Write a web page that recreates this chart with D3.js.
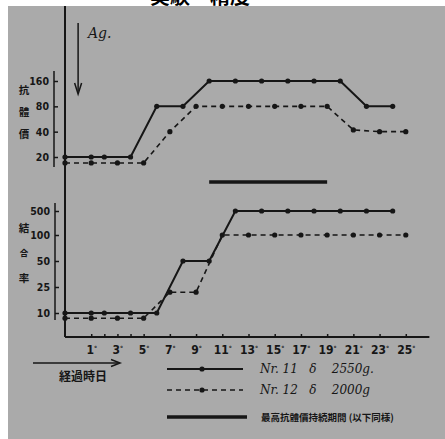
<!DOCTYPE html>
<html>
<head>
<meta charset="utf-8">
<script src="https://cdn.jsdelivr.net/npm/d3@7"></script>
<style>
  body { margin: 0; background: #fff; }
  svg { display: block; }
  .num { font-family: "Liberation Sans Narrow", "DejaVu Sans Condensed", sans-serif; font-weight: bold; }
  .jp { font-family: "Noto Sans CJK JP", sans-serif; font-weight: bold; }
</style>
</head>
<body>
<svg id="chart" width="445" height="439"></svg>
<script>
// days after Ag injection
const daysTop11 = [-1, 1, 2, 4, 6, 8, 10, 12, 14, 16, 18, 20, 22, 24];
const titerTop11 = [20, 20, 20, 20, 80, 80, 160, 160, 160, 160, 160, 160, 80, 80];
const daysTop12 = [-1, 1, 3, 5, 7, 9, 11, 13, 15, 17, 19, 21, 23, 25];
const titerTop12 = [17, 17, 17, 17, 40, 80, 80, 80, 80, 80, 80, 42, 40, 40];

const daysBot11 = [-1, 1, 2, 4, 6, 8, 10, 12, 14, 16, 18, 20, 22, 24];
const rateBot11 = [10, 10, 10, 10, 10, 50, 50, 500, 500, 500, 500, 500, 500, 500];
const daysBot12 = [-1, 1, 3, 5, 7, 9, 11, 13, 15, 17, 19, 21, 23, 25];
const rateBot12 = [7, 7, 7, 7, 22, 22, 100, 100, 100, 100, 100, 100, 100, 100];

const maxPeriod = [10, 19];
const agDay = 0;

const topTicks = [20, 40, 80, 160];
const botTicks = [10, 25, 50, 100, 500];
const dayTicks = [1, 2, 3, 4, 5, 7, 9, 11, 13, 15, 17, 19, 21, 23, 25];
const dayLabels = [1, 3, 5, 7, 9, 11, 13, 15, 17, 19, 21, 23, 25];

const topYLabel = ["抗", "體", "價"];
const botYLabel = ["結", "合", "率"];
const xLabel = "経過時日";
const legendNames = ["Nr. 11   δ    2550g.", "Nr. 12   δ    2000g"];
const legendBar = "最高抗體價持続期間 (以下同様)";

const ink = "#161616";
const svg = d3.select("#chart");

// title cut off at the top edge of the scan
svg.append("text").attr("class", "jp").attr("x", 200).attr("y", 4)
  .attr("text-anchor", "middle").attr("font-size", 20).attr("fill", "#000")
  .text("実験　精度");

svg.append("rect").attr("x", 8).attr("y", 6).attr("width", 437).attr("height", 433)
  .attr("fill", "#aaaaaa");

const x = d3.scaleLinear().domain([-1, 27]).range([65, 432]);
const yTop = d3.scaleLog().base(2).domain([20, 160]).range([157, 81]);
const yBot = d3.scaleLinear().domain(botTicks).range([313, 287, 261, 235, 211]);

// frame
svg.append("line").attr("x1", 65).attr("x2", 65).attr("y1", 6).attr("y2", 337)
  .attr("stroke", ink).attr("stroke-width", 2);

const xAxis = svg.append("g").attr("transform", "translate(0,337)")
  .call(d3.axisBottom(x).tickValues(dayTicks).tickSizeInner(-3).tickSizeOuter(0).tickPadding(8)
    .tickFormat(d => dayLabels.includes(d) ? d : ""));
xAxis.select(".domain").attr("d", `M65,0H${x(26.8)}`).attr("stroke", ink).attr("stroke-width", 2);
xAxis.selectAll(".tick line").attr("stroke", ink).attr("stroke-width", 1.5);
xAxis.selectAll(".tick text").attr("class", "num").attr("font-size", 12).attr("fill", ink)
  .filter(d => dayLabels.includes(d))
  .append("tspan").attr("dy", "-0.4em").attr("font-size", 7).text("°");

function yAxis(scale, ticks, ax, y1, y2) {
  const g = svg.append("g").attr("transform", `translate(${ax},0)`)
    .call(d3.axisLeft(scale).tickValues(ticks).tickSizeInner(-4).tickSizeOuter(0).tickPadding(5)
      .tickFormat(d3.format("d")));
  g.select(".domain").remove();
  g.append("line").attr("y1", y1).attr("y2", y2).attr("stroke", ink).attr("stroke-width", 1.5);
  g.selectAll(".tick line").attr("stroke", ink).attr("stroke-width", 1.5);
  g.selectAll(".tick text").attr("class", "num").attr("font-size", 10.5).attr("fill", ink);
}
yAxis(yTop, topTicks, 54, 71, 167);
yAxis(yBot, botTicks, 55, 203, 320);

function series(days, vals, y, dashed) {
  const pts = days.map((d, i) => [x(d), y(vals[i])]);
  svg.append("path").attr("d", d3.line()(pts)).attr("fill", "none")
    .attr("stroke", ink).attr("stroke-width", dashed ? 1.6 : 2)
    .attr("stroke-dasharray", dashed ? "5,4" : null);
  svg.append("g").selectAll("circle").data(pts).join("circle")
    .attr("cx", p => p[0]).attr("cy", p => p[1]).attr("r", 2.6).attr("fill", ink);
}
series(daysTop11, titerTop11, yTop, false);
series(daysTop12, titerTop12, yTop, true);
series(daysBot11, rateBot11, yBot, false);
series(daysBot12, rateBot12, yBot, true);

// period of highest titer
svg.append("line").attr("x1", x(maxPeriod[0])).attr("x2", x(maxPeriod[1]))
  .attr("y1", 182).attr("y2", 182).attr("stroke", ink).attr("stroke-width", 3.5);

// Ag arrow
svg.append("line").attr("x1", x(agDay)).attr("x2", x(agDay)).attr("y1", 23).attr("y2", 91)
  .attr("stroke", ink).attr("stroke-width", 1.5);
svg.append("path").attr("d", `M${x(agDay) - 3.5},83L${x(agDay)},94L${x(agDay) + 3.5},83`)
  .attr("fill", "none").attr("stroke", ink).attr("stroke-width", 1.5);
svg.append("text").attr("x", 88).attr("y", 38).attr("font-family", "DejaVu Serif")
  .attr("font-style", "italic").attr("font-size", 14).attr("fill", ink).text("Ag.");

// y labels
function vLabel(chars, cx, ys, sizes) {
  chars.forEach((c, i) => svg.append("text").attr("class", "jp").attr("x", cx).attr("y", ys[i])
    .attr("text-anchor", "middle").attr("dominant-baseline", "central")
    .attr("font-size", sizes[i]).attr("fill", ink).text(c));
}
vLabel(topYLabel, 24, [89, 111, 133], [10.5, 10.5, 10.5]);
vLabel(botYLabel, 24, [227, 252, 277], [10.5, 8.5, 10.5]);

// x label with arrow
svg.append("line").attr("x1", 33).attr("x2", 118).attr("y1", 363).attr("y2", 363)
  .attr("stroke", ink).attr("stroke-width", 1.5);
svg.append("path").attr("d", "M111,359.5L120,363L111,366.5").attr("fill", "none")
  .attr("stroke", ink).attr("stroke-width", 1.5);
svg.append("text").attr("class", "jp").attr("x", 83).attr("y", 375)
  .attr("text-anchor", "middle").attr("dominant-baseline", "central")
  .attr("font-size", 12).attr("fill", ink).text(xLabel);

// legend
const lg = svg.append("g");
[369, 390].forEach((ly, i) => {
  lg.append("line").attr("x1", 167).attr("x2", 243).attr("y1", ly).attr("y2", ly)
    .attr("stroke", ink).attr("stroke-width", i ? 1.6 : 2)
    .attr("stroke-dasharray", i ? "5,4" : null);
  lg.append("circle").attr("cx", 202).attr("cy", ly).attr("r", 2.6).attr("fill", ink);
  lg.append("text").attr("x", 260).attr("y", ly + 4).attr("font-family", "DejaVu Serif")
    .attr("font-style", "italic").attr("font-size", 12).attr("fill", ink)
    .attr("xml:space", "preserve").text(legendNames[i]);
});
lg.append("line").attr("x1", 167).attr("x2", 247).attr("y1", 417).attr("y2", 417)
  .attr("stroke", ink).attr("stroke-width", 3.5);
lg.append("text").attr("class", "jp").attr("x", 261).attr("y", 417)
  .attr("dominant-baseline", "central").attr("font-size", 9.5).attr("fill", ink)
  .text(legendBar);
</script>
</body>
</html>
